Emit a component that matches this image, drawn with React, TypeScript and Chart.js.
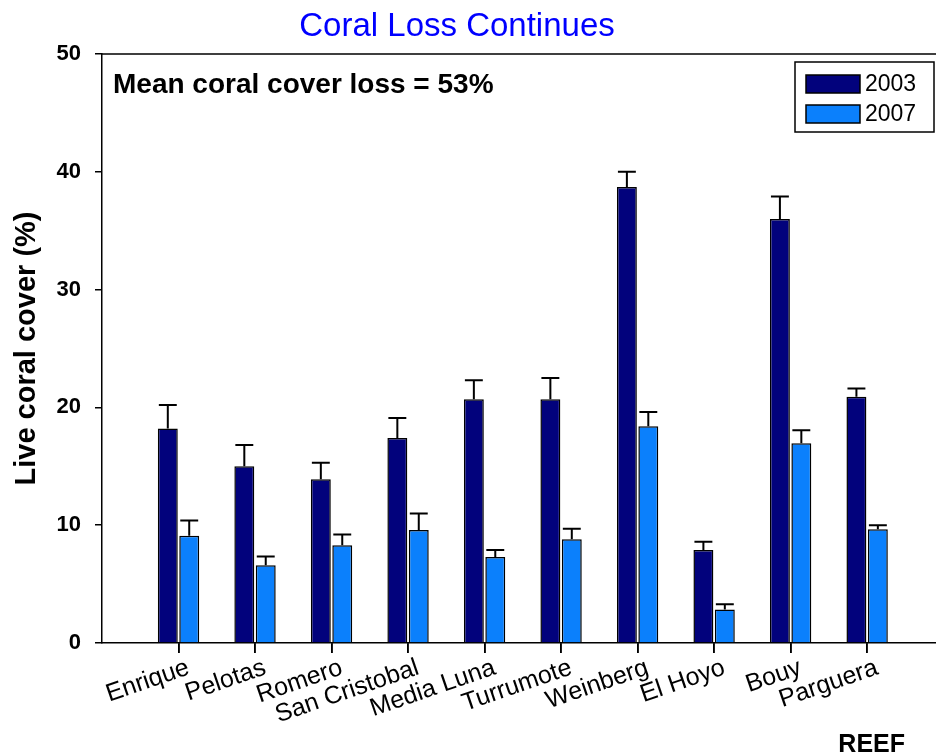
import React, { useEffect, useRef } from 'react';
import { Chart, registerables } from 'chart.js';

Chart.register(...registerables);

const reefs = ['Enrique', 'Pelotas', 'Romero', 'San Cristobal', 'Media Luna', 'Turrumote', 'Weinberg', 'El Hoyo', 'Bouy', 'Parguera'];
const seriesLabels = ['2003', '2007'];
const cover2003 = [18.2, 15.0, 13.9, 17.4, 20.7, 20.7, 38.7, 7.9, 36.0, 20.9];
const cover2007 = [9.1, 6.6, 8.3, 9.6, 7.3, 8.8, 18.4, 2.85, 16.95, 9.65];
const se2003 = [2.0, 1.8, 1.4, 1.7, 1.6, 1.8, 1.3, 0.7, 1.9, 0.7];
const se2007 = [1.3, 0.75, 0.9, 1.4, 0.6, 0.9, 1.2, 0.45, 1.1, 0.35];
const yMin = 0;
const yMax = 50;
const yStep = 10;
const titleText = 'Coral Loss Continues';
const noteText = 'Mean coral cover loss = 53%';
const yTitleText = 'Live coral cover (%)';
const xTitleText = 'REEF';

const FONT = '"Liberation Sans", Arial, Helvetica, sans-serif';
const colors = ['#02027c', '#0b80fc'];

const decorPlugin = {
  id: 'decor',
  afterDatasetsDraw(chart: any) {
    const ctx = chart.ctx;
    const yScale = chart.scales.y;
    chart.data.datasets.forEach((ds: any, di: number) => {
      const meta = chart.getDatasetMeta(di);
      meta.data.forEach((bar: any, i: number) => {
        const v = ds.data[i].y;
        const e = ds.errors[i];
        const yTop = yScale.getPixelForValue(v + e);
        const half = bar.width * 0.45;
        ctx.save();
        ctx.strokeStyle = '#000';
        ctx.lineWidth = 2;
        ctx.beginPath();
        ctx.moveTo(bar.x, bar.y);
        ctx.lineTo(bar.x, yTop);
        ctx.moveTo(bar.x - half, yTop);
        ctx.lineTo(bar.x + half, yTop);
        ctx.stroke();
        ctx.restore();
      });
    });
  },
  afterDraw(chart: any) {
    const ctx = chart.ctx;
    const area = chart.chartArea;
    const xScale = chart.scales.x;
    ctx.save();
    ctx.strokeStyle = '#000';
    ctx.lineWidth = 1.5;
    ctx.beginPath();
    ctx.moveTo(area.left, area.top);
    ctx.lineTo(area.right, area.top);
    xScale.ticks.forEach((t: any) => {
      const px = Math.round(xScale.getPixelForValue(t.value));
      ctx.moveTo(px, area.bottom);
      ctx.lineTo(px, area.bottom + 10);
    });
    ctx.stroke();

    ctx.fillStyle = '#0000ff';
    ctx.font = `33px ${FONT}`;
    ctx.textAlign = 'center';
    ctx.textBaseline = 'alphabetic';
    ctx.fillText(titleText, 457, 36);

    ctx.fillStyle = '#000';
    ctx.font = `bold 28px ${FONT}`;
    ctx.textAlign = 'left';
    ctx.fillText(noteText, area.left + 11, area.top + 39);

    ctx.font = `bold 25px ${FONT}`;
    ctx.textAlign = 'right';
    ctx.fillText(xTitleText, 905, 752);

    const bw = 139;
    const bh = 70;
    const bx = area.right - 2 - bw;
    const by = area.top + 8;
    ctx.fillStyle = '#fff';
    ctx.fillRect(bx, by, bw, bh);
    ctx.lineWidth = 1.5;
    ctx.strokeStyle = '#000';
    ctx.strokeRect(bx, by, bw, bh);
    chart.data.datasets.forEach((ds: any, di: number) => {
      const cy = by + 22 + di * 30;
      ctx.fillStyle = ds.backgroundColor;
      ctx.fillRect(bx + 11, cy - 9, 54, 18);
      ctx.strokeRect(bx + 11, cy - 9, 54, 18);
      ctx.fillStyle = '#000';
      ctx.font = `23px ${FONT}`;
      ctx.textAlign = 'left';
      ctx.textBaseline = 'middle';
      ctx.fillText(ds.label, bx + 70, cy + 1);
    });
    ctx.restore();
  },
};

export default function App() {
  const canvasRef = useRef<HTMLCanvasElement | null>(null);

  useEffect(() => {
    document.body.style.margin = '0';
    const canvas = canvasRef.current;
    if (!canvas) return;
    const series = [cover2003, cover2007];
    const errs = [se2003, se2007];
    const chart = new Chart(canvas, {
      type: 'bar',
      data: {
        datasets: seriesLabels.map((label, di) => ({
          label,
          data: series[di].map((v, i) => ({ x: i + 1, y: v })),
          errors: errs[di],
          backgroundColor: colors[di],
          borderColor: '#000',
          borderWidth: 1.5,
          borderSkipped: 'bottom',
          categoryPercentage: 0.56,
          barPercentage: 0.93,
        })) as any,
      },
      options: {
        animation: false,
        responsive: false,
        layout: { padding: { top: 54, left: 0, right: 0, bottom: 0 } },
        plugins: {
          legend: { display: false },
          title: { display: false },
          tooltip: { enabled: false },
        },
        scales: {
          x: {
            type: 'linear',
            min: 0,
            max: 10.9,
            offset: false,
            afterBuildTicks: (scale: any) => {
              scale.ticks = reefs.map((_, i) => ({ value: i + 1 }));
            },
            afterFit: (scale: any) => {
              scale.height = 112;
              scale.paddingLeft = 0;
              scale.paddingRight = 0;
            },
            grid: {
              display: true,
              offset: false,
              drawOnChartArea: false,
              drawTicks: true,
              tickLength: 10,
              color: '#000',
              lineWidth: 1.5,
            },
            border: { display: true, color: '#000', width: 1.5 },
            ticks: {
              autoSkip: false,
              minRotation: 19,
              maxRotation: 19,
              padding: 0,
              labelOffset: 10,
              color: '#000',
              font: { family: FONT, size: 25 },
              callback: (value: any) => reefs[Number(value) - 1] ?? '',
            },
          },
          y: {
            type: 'linear',
            min: yMin,
            max: yMax,
            afterFit: (scale: any) => {
              scale.width = 102;
            },
            grid: {
              display: true,
              drawOnChartArea: false,
              drawTicks: true,
              tickLength: 7,
              color: '#000',
              lineWidth: 1.5,
            },
            border: { display: true, color: '#000', width: 1.5 },
            ticks: {
              stepSize: yStep,
              padding: 14,
              color: '#000',
              font: { family: FONT, size: 22, weight: 'bold' },
            },
            title: {
              display: true,
              text: yTitleText,
              color: '#000',
              font: { family: FONT, size: 29, weight: 'bold' },
              padding: { top: 10, bottom: 0 },
            },
          },
        },
      } as any,
      plugins: [decorPlugin],
    });
    return () => chart.destroy();
  }, []);

  return (
    <div style={{ width: 936, height: 755 }}>
      <canvas ref={canvasRef} width={936} height={755} style={{ display: 'block' }} />
    </div>
  );
}
